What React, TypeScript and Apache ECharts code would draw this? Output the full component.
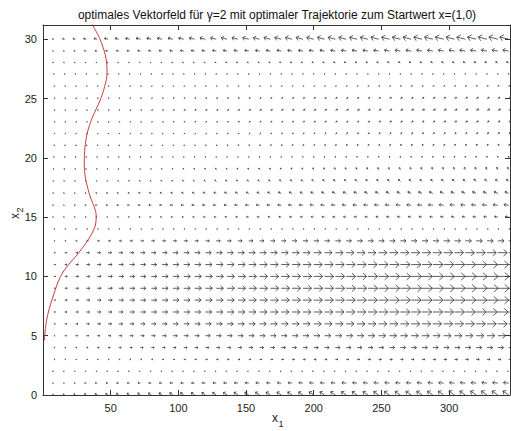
import React, { useEffect, useRef } from "react";
import * as echarts from "echarts";

const titleText = "optimales Vektorfeld für γ=2 mit optimaler Trajektorie zum Startwert x=(1,0)";

// grid of the vector field
const xGrid = [8, 16, 24, 32, 40, 48, 56, 64, 72, 80, 88, 96, 104, 112, 120, 128, 136, 144, 152, 160, 168, 176, 184, 192, 200, 208, 216, 224, 232, 240, 248, 256, 264, 272, 280, 288, 296, 304, 312, 320, 328, 336, 344];
const yGrid = [0, 1, 2, 3, 4, 5, 6, 7, 8, 9, 10, 11, 12, 13, 14, 15, 16, 17, 18, 19, 20, 21, 22, 23, 24, 25, 26, 27, 28, 29, 30];

// per-row direction of the field (in units of column spacing / row spacing)
const rowU = [-0.55, -0.5, -0.1, 0.3, 0.55, 0.75, 0.9, 1.0, 1.05, 1.08, 1.08, 1.03, 0.9, 0.6, 0.1, -0.3, -0.45, -0.35, -0.2, -0.1, 0.0, 0.1, 0.15, 0.2, 0.25, 0.2, 0.1, 0.0, -0.2, -0.55, -0.85];
const rowV = [0.35, 0.05, 0.0, 0.0, 0.0, 0.0, 0.0, 0.0, 0.0, 0.0, 0.0, 0.0, 0.0, 0.0, 0.0, 0.05, 0.05, 0.15, 0.2, 0.2, 0.15, 0.15, 0.12, 0.1, 0.1, 0.1, 0.1, 0.1, 0.1, 0.1, 0.2];
// per-column magnitude of the field
const colScale = [0.15, 0.22, 0.26, 0.30, 0.34, 0.37, 0.40, 0.43, 0.46, 0.48, 0.51, 0.53, 0.55, 0.57, 0.59, 0.61, 0.63, 0.65, 0.66, 0.68, 0.70, 0.71, 0.73, 0.74, 0.76, 0.77, 0.79, 0.80, 0.82, 0.83, 0.84, 0.86, 0.87, 0.88, 0.89, 0.90, 0.91, 0.92, 0.93, 0.94, 0.95, 0.96, 0.96];

// optimal trajectory
const trajX = [1, 2, 4, 8, 13, 19, 25, 31, 36, 39, 39.3, 38, 35, 32.5, 31, 30.5, 30.8, 32, 34.5, 38, 42, 45.5, 47.3, 46.5, 43.5, 40, 36];
const trajY = [4.6, 5.8, 7.0, 8.5, 10.0, 11.0, 11.8, 12.7, 13.6, 14.5, 15.1, 15.8, 16.7, 17.7, 18.6, 19.6, 20.6, 21.7, 22.8, 23.8, 24.8, 26.0, 27.2, 28.4, 29.6, 30.5, 31.3];

const xTicks = [50, 100, 150, 200, 250, 300];
const yTicks = [0, 5, 10, 15, 20, 25, 30];

const FONT = "'Liberation Sans', Arial, Helvetica, sans-serif";
const AX = "#333";

export default function App() {
  const ref = useRef<HTMLDivElement>(null);
  useEffect(() => {
    if (!ref.current) return;
    const chart = echarts.init(ref.current, null, { renderer: "svg" });

    const field: number[][] = [];
    yGrid.forEach((y, j) => {
      xGrid.forEach((x, i) => {
        field.push([x, y, rowU[j] * colScale[i], rowV[j] * colScale[i]]);
      });
    });
    const traj = trajX.map((x, i) => [x, trajY[i]]);

    const renderArrow = (params: any, api: any) => {
      const x = api.value(0), y = api.value(1), u = api.value(2), v = api.value(3);
      const p = api.coord([x, y]);
      const s = api.size([8, 1]);
      let dx = u * s[0];
      let dy = -v * s[1];
      const len = Math.hypot(dx, dy);
      if (len < 1.2) {
        if (len < 1e-6) { dx = 0; dy = -1.2; } else { dx *= 1.2 / len; dy *= 1.2 / len; }
      }
      const tx = p[0] + dx, ty = p[1] + dy;
      const a = 0.38, b = 0.9;
      const h1 = [tx - a * (dx + b * dy), ty - a * (dy - b * dx)];
      const h2 = [tx - a * (dx - b * dy), ty - a * (dy + b * dx)];
      const st = { stroke: "#333", lineWidth: 0.8, fill: "none" };
      return {
        type: "group",
        children: [
          { type: "line", shape: { x1: p[0], y1: p[1], x2: tx, y2: ty }, style: st },
          { type: "polyline", shape: { points: [h1, [tx, ty], h2] }, style: st },
        ],
      };
    };

    const lblX = (v: number) => (xTicks.indexOf(v) >= 0 ? String(v) : "");
    const lblY = (v: number) => (yTicks.indexOf(v) >= 0 ? String(v) : "");

    const baseX = {
      type: "value", min: 0, max: 345, interval: 50,
      axisLine: { show: true, onZero: false, lineStyle: { color: AX, width: 1 } },
      axisTick: { show: true, inside: true, length: 5, lineStyle: { color: AX } },
      splitLine: { show: false },
    };
    const baseY = {
      type: "value", min: 0, max: 31.2, interval: 5,
      axisLine: { show: true, onZero: false, lineStyle: { color: AX, width: 1 } },
      axisTick: { show: true, inside: true, length: 5, lineStyle: { color: AX } },
      splitLine: { show: false },
    };

    chart.setOption({
      animation: false,
      backgroundColor: "#fff",
      title: {
        text: titleText, left: 272, top: 4, textAlign: "center",
        textStyle: { fontFamily: FONT, fontSize: 12, fontWeight: "normal", color: "#111" },
      },
      grid: { left: 43, right: 1, top: 25, bottom: 36 },
      xAxis: [
        { ...baseX, position: "bottom",
          axisLabel: { formatter: lblX, showMinLabel: false, showMaxLabel: false, fontFamily: FONT, fontSize: 11, color: "#222", margin: 7 } },
        { ...baseX, position: "top", axisLabel: { show: false } },
      ],
      yAxis: [
        { ...baseY, position: "left",
          axisLabel: { formatter: lblY, showMaxLabel: false, fontFamily: FONT, fontSize: 11, color: "#222", margin: 6 } },
        { ...baseY, position: "right", axisLabel: { show: false } },
      ],
      graphic: [
        { type: "text", x: 275, y: 412, style: { text: "x", fontFamily: FONT, fontSize: 12, fill: "#222", align: "center" } },
        { type: "text", x: 281, y: 419, style: { text: "1", fontFamily: FONT, fontSize: 9, fill: "#222", align: "center" } },
        { type: "group", x: 15, y: 216, rotation: Math.PI / 2, children: [
          { type: "text", x: 0, y: 0, style: { text: "x", fontFamily: FONT, fontSize: 12, fill: "#222", align: "center", verticalAlign: "middle" } },
          { type: "text", x: 6, y: 5, style: { text: "2", fontFamily: FONT, fontSize: 9, fill: "#222", align: "center", verticalAlign: "middle" } },
        ] },
      ],
      series: [
        {
          type: "custom", xAxisIndex: 0, yAxisIndex: 0,
          renderItem: renderArrow, data: field, encode: { x: 0, y: 1 }, silent: true,
        },
        {
          type: "line", xAxisIndex: 0, yAxisIndex: 0, data: traj, showSymbol: false, smooth: 0.4,
          lineStyle: { color: "#c43c3c", width: 1 }, silent: true, z: 5,
        },
      ],
    });
    return () => chart.dispose();
  }, []);
  return <div ref={ref} style={{ position: "absolute", left: 0, top: 0, width: 511, height: 431, background: "#fff" }} />;
}
